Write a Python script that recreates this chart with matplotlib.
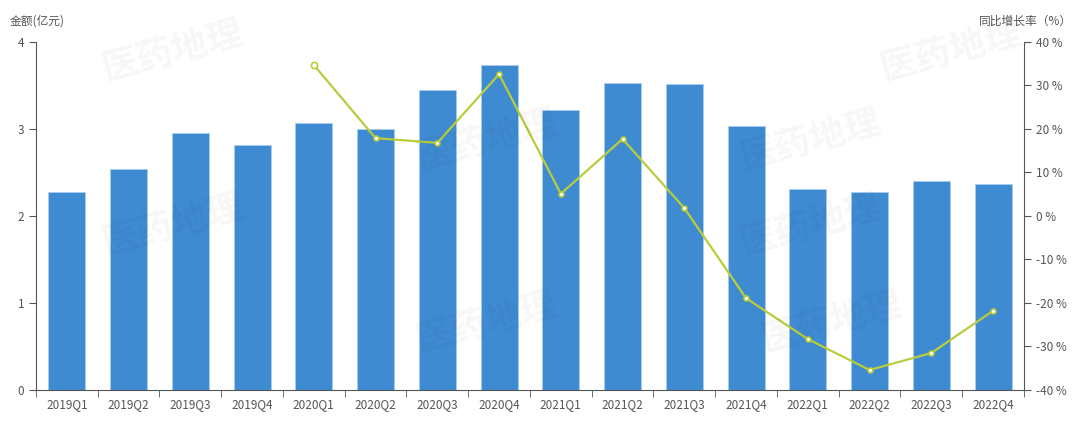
import numpy as np
import matplotlib
matplotlib.use("Agg")
import matplotlib.pyplot as plt
from matplotlib.ticker import FuncFormatter

plt.rcParams['font.family'] = ['Noto Sans CJK SC', 'DejaVu Sans']

quarters = ['2019Q1', '2019Q2', '2019Q3', '2019Q4',
            '2020Q1', '2020Q2', '2020Q3', '2020Q4',
            '2021Q1', '2021Q2', '2021Q3', '2021Q4',
            '2022Q1', '2022Q2', '2022Q3', '2022Q4']
amount = [2.28, 2.54, 2.95, 2.82, 3.07, 3.00, 3.45, 3.74,
          3.22, 3.53, 3.52, 3.03, 2.31, 2.28, 2.40, 2.37]
# yoy growth starts at 2020Q1
growth = [None, None, None, None, 34.7, 17.9, 16.8, 32.6,
          5.1, 17.7, 1.8, -18.9, -28.3, -35.4, -31.5, -21.8]

bar_color = '#3f8bd2'
line_color = '#b8cc3c'
axis_color = '#555555'
text_color = '#555555'

fig = plt.figure(figsize=(10.8, 4.24), dpi=100)
ax = fig.add_axes([0.0333, 0.0802, 0.9148, 0.8208])

x = np.arange(len(quarters))
ax.bar(x, amount, width=0.6, color=bar_color, edgecolor='#a9cdf0', linewidth=0.6, zorder=2)
ax.set_xlim(-0.5, len(quarters) - 0.5)
ax.set_ylim(0, 4)
ax.set_yticks([0, 1, 2, 3, 4])
ax.set_xticks(x)
ax.set_xticklabels(quarters)
ax.set_xticks(np.arange(-0.5, len(quarters)), minor=True)
ax.tick_params(axis='x', which='major', length=0, pad=6, labelsize=8.5, labelcolor=text_color)
ax.tick_params(axis='x', which='minor', length=5, color=axis_color)
ax.tick_params(axis='y', length=5, color=axis_color, labelsize=8.5, labelcolor=text_color)
for s in ['top', 'right']:
    ax.spines[s].set_visible(False)
for s in ['left', 'bottom']:
    ax.spines[s].set_color(axis_color)

ax2 = ax.twinx()
ax2.set_ylim(-40, 40)
ax2.set_yticks(range(-40, 41, 10))
ax2.yaxis.set_major_formatter(FuncFormatter(lambda v, p: '%d %%' % v))
ax2.tick_params(axis='y', length=5, color=axis_color, labelsize=8.5, labelcolor=text_color)
for s in ['top', 'left', 'bottom']:
    ax2.spines[s].set_visible(False)
ax2.spines['right'].set_color(axis_color)

gx = [i for i, g in enumerate(growth) if g is not None]
gy = [g for g in growth if g is not None]
ax2.plot(gx, gy, color=line_color, linewidth=1.6, marker='o', markersize=3.5,
         markerfacecolor='white', markeredgecolor=line_color, markeredgewidth=1.2, zorder=3)
ax2.plot(gx[0], gy[0], marker='o', markersize=4.5, markerfacecolor='white',
         markeredgecolor=line_color, markeredgewidth=1.2, zorder=4)

fig.text(0.009, 0.935, '金额(亿元)', fontsize=8.5, color=text_color, ha='left', va='bottom')
fig.text(0.993, 0.935, '同比增长率（%）', fontsize=8.5, color=text_color, ha='right', va='bottom')

# watermark
for wx, wy in [(0.16, 0.88), (0.45, 0.67), (0.16, 0.47), (0.45, 0.24), (0.75, 0.67),
               (0.75, 0.47), (0.77, 0.24), (0.88, 0.88)]:
    fig.text(wx, wy, '医药地理', fontsize=26, fontweight='bold', color='#000000', alpha=0.035,
             rotation=15, ha='center', va='center', zorder=10)

fig.savefig('out.png', dpi=100)
